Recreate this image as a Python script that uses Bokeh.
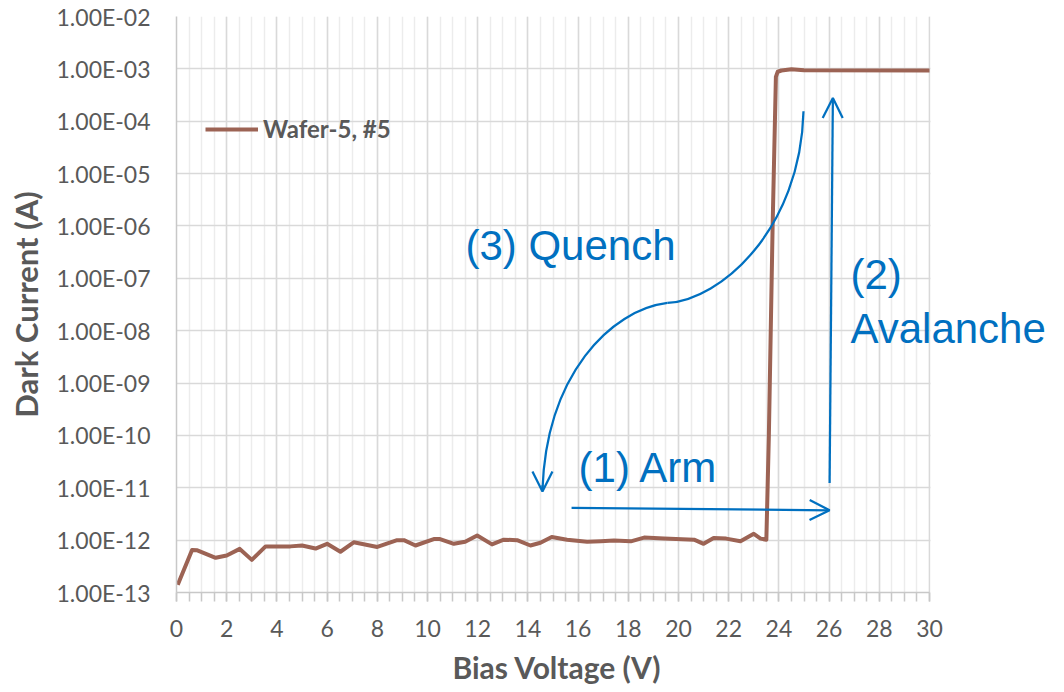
from bokeh.plotting import figure
from bokeh.models import (Range1d, FixedTicker, SingleIntervalTicker, CustomJSTickFormatter,
                          Label, Arrow, OpenHead, Legend, LegendItem, BoxAnnotation, Title)
from bokeh.embed import file_html
from bokeh.resources import INLINE

# ---- data ----
voltage = [0.05, 0.62, 0.83, 1.56, 2.0, 2.52, 3.0, 3.55, 4.54, 5.0, 5.54, 6.0, 6.53, 7.06,
           8.0, 8.79, 9.06, 9.52, 10.25, 10.5, 11.05, 11.5, 11.98, 12.57, 13.04, 13.57,
           14.1, 14.5, 14.95, 15.56, 16.36, 16.9, 17.43, 18.1, 18.63, 19.42, 20.62, 21.0,
           21.4, 21.9, 22.47, 23.0, 23.27, 23.5, 23.6, 23.75, 23.88, 23.95, 24.1, 24.5,
           25.0, 30.0]
current = [1.4e-13, 6.5e-13, 6.4e-13, 4.6e-13, 5.1e-13, 6.8e-13, 4.2e-13, 7.6e-13, 7.6e-13,
           7.9e-13, 6.9e-13, 8.5e-13, 6.0e-13, 9.1e-13, 7.4e-13, 1.0e-12, 1.0e-12, 7.9e-13,
           1.05e-12, 1.05e-12, 8.5e-13, 9.3e-13, 1.23e-12, 8.3e-13, 1.02e-12, 1.0e-12,
           7.9e-13, 8.9e-13, 1.15e-12, 1.02e-12, 9.3e-13, 9.5e-13, 9.8e-13, 9.5e-13,
           1.12e-12, 1.07e-12, 1.02e-12, 8.5e-13, 1.1e-12, 1.07e-12, 9.5e-13, 1.32e-12,
           1.07e-12, 1.02e-12, 1.0e-10, 1.0e-6, 7.0e-4, 8.8e-4, 9.3e-4, 9.8e-4, 9.4e-4, 9.3e-4]
series_name = "Wafer-5, #5"
decades = [-13, -12, -11, -10, -9, -8, -7, -6, -5, -4, -3, -2]
x_min, x_max = 0, 30

# annotation geometry (data units: volts, log10 amps)
quench_x0 = [24.98, 19.56]
quench_y0 = [-3.810, -7.471]
quench_cx0 = [24.86, 17.29]
quench_cy0 = [-6.079, -7.604]
quench_cx1 = [21.67, 14.74]
quench_cy1 = [-7.414, -8.844]
quench_x1 = [19.56, 14.58]
quench_y1 = [-7.471, -11.036]
texts = ["(3) Quench", "(2)", "Avalanche", "(1) Arm"]
text_v = [11.51, 26.85, 26.85, 16.02]
text_log = [-6.38, -6.92, -7.96, -10.62]

BLUE = "#0070C0"
GRAY = "#595959"
PX_PER_V = 25.1
FRAME_LEFT = 176
x_view_end = x_max + (1064 - FRAME_LEFT - PX_PER_V * x_max) / PX_PER_V

p = figure(width=1064, height=692, x_range=Range1d(x_min, x_view_end),
           y_range=Range1d(1e-13, 1e-2),
           y_axis_type="log", output_backend="svg", toolbar_location=None,
           min_border_left=FRAME_LEFT, min_border_right=0, min_border_top=16,
           min_border_bottom=99,
           background_fill_color="white", border_fill_color="white", outline_line_color=None)

r = p.line(voltage, current, line_color="#9c6354", line_width=4, line_join="round")

# axes
p.yaxis.ticker = FixedTicker(ticks=[10.0 ** k for k in decades], minor_ticks=[])
p.yaxis.formatter = CustomJSTickFormatter(code="""
const e = Math.round(Math.log10(tick));
const s = e < 0 ? '-' : '+';
const a = Math.abs(e);
return '1.00E' + s + (a < 10 ? '0' + a : '' + a);
""")
p.xaxis.ticker = SingleIntervalTicker(interval=2, num_minor_ticks=4)
p.xaxis.bounds = (x_min, x_max)
p.xgrid.bounds = (x_min, x_max)

for ax in (p.xaxis[0], p.yaxis[0]):
    ax.major_label_text_font = "Lato"
    ax.major_label_text_font_size = "23px"
    ax.major_label_text_color = GRAY
    ax.axis_label_text_font = "Lato"
    ax.axis_label_text_font_style = "bold"
    ax.axis_label_text_color = GRAY
    ax.axis_line_color = "#c8c8c8"
    ax.axis_line_width = 1.5

p.yaxis.axis_label = "Dark Current (A)"
p.yaxis.axis_label_text_font_size = "31px"
p.xaxis.major_tick_out = 9
p.xaxis.major_tick_in = 0
p.xaxis.minor_tick_out = 9
p.xaxis.minor_tick_in = 0
p.xaxis.major_tick_line_color = "#c8c8c8"
p.xaxis.minor_tick_line_color = "#c8c8c8"
p.xaxis.major_tick_line_width = 1.5
p.xaxis.minor_tick_line_width = 1.5
p.xaxis.major_label_standoff = 18
p.yaxis.major_tick_out = 0
p.yaxis.major_tick_in = 0
p.yaxis.minor_tick_line_color = None
p.yaxis.major_tick_line_color = None
p.yaxis.major_label_standoff = 26
p.yaxis.axis_label_standoff = 9

# x-axis title, placed under the 0..30 span
p.add_layout(Title(text="Bias Voltage (V)", align="left", offset=276, text_font="Lato",
                   text_font_style="bold", text_font_size="30px", text_color=GRAY,
                   standoff=15), "below")

# grids
p.xgrid.grid_line_color = "#d9d9d9"
p.xgrid.grid_line_width = 1.5
p.xgrid.minor_grid_line_color = "#ececec"
p.xgrid.minor_grid_line_width = 1.5
p.ygrid.grid_line_color = "#d9d9d9"
p.ygrid.grid_line_width = 1.5

# blank the area to the right of the 30 V edge (room for the "Avalanche" text)
p.add_layout(BoxAnnotation(left=x_max + 0.04, fill_color="white", fill_alpha=1.0,
                           line_color=None, level="glyph"))

# legend
legend = Legend(items=[LegendItem(label=series_name, renderers=[r])], location=(29, 449),
                glyph_width=53, glyph_height=20, padding=0, margin=0, spacing=0,
                label_standoff=5, border_line_color=None, background_fill_alpha=0,
                label_text_font="Lato", label_text_font_style="bold",
                label_text_font_size="24px", label_text_color=GRAY)
p.add_layout(legend)

# annotations
p.bezier(x0=quench_x0, y0=[10.0 ** v for v in quench_y0],
         x1=quench_x1, y1=[10.0 ** v for v in quench_y1],
         cx0=quench_cx0, cy0=[10.0 ** v for v in quench_cy0],
         cx1=quench_cx1, cy1=[10.0 ** v for v in quench_cy1],
         line_color=BLUE, line_width=2.25)
p.add_layout(Arrow(end=OpenHead(size=20, line_color=BLUE, line_width=2.25),
                   x_start=14.58, y_start=10 ** -10.95, x_end=14.58, y_end=10 ** -11.07,
                   line_color=BLUE, line_width=2.25))
p.add_layout(Arrow(end=OpenHead(size=20, line_color=BLUE, line_width=2.25),
                   x_start=15.74, y_start=10 ** -11.385, x_end=26.02, y_end=10 ** -11.43,
                   line_color=BLUE, line_width=2.25))
p.add_layout(Arrow(end=OpenHead(size=20, line_color=BLUE, line_width=2.25),
                   x_start=26.02, y_start=10 ** -10.91, x_end=26.15, y_end=10 ** -3.557,
                   line_color=BLUE, line_width=2.25))
for t, tv, tl in zip(texts, text_v, text_log):
    p.add_layout(Label(x=tv, y=10 ** tl, text=t, text_font="Liberation Sans",
                       text_font_size="42px", text_color=BLUE, text_baseline="alphabetic"))

open("out.html", "w").write(file_html(p, INLINE))
